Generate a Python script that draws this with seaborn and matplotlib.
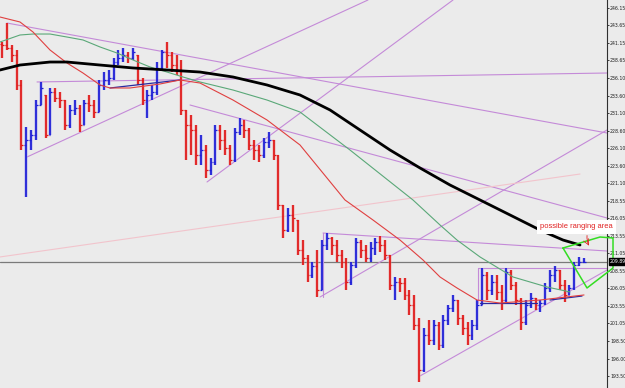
import numpy as np
import pandas as pd
import matplotlib
matplotlib.use("Agg")
import matplotlib.pyplot as plt
import seaborn as sns

# ---------------- data ----------------
high = [241.25,243.96,240.82,240.11,235.82,229.11,228.68,232.96,235.54,233.68,
        234.68,234.68,234.11,232.96,232.25,232.96,232.25,232.96,233.68,232.96,
        235.82,236.96,237.25,238.96,240.11,240.39,239.82,240.39,239.39,236.11,
        234.39,235.11,238.39,240.11,241.25,239.82,239.39,238.68,231.54,230.82,
        229.39,227.96,226.54,224.68,229.39,229.39,228.68,226.54,228.96,230.39,
        230.11,228.96,227.25,226.54,227.54,228.39,227.25,225.11,217.96,217.54,
        217.96,215.82,212.96,210.82,209.82,211.54,212.96,213.96,213.39,212.96,
        211.54,210.39,209.82,213.25,212.96,212.25,212.68,213.25,213.54,212.96,
        210.82,207.68,207.54,207.54,205.82,205.11,201.82,200.39,201.54,201.54,
        201.25,202.25,203.68,205.11,204.39,202.25,201.25,201.54,204.39,208.96,
        208.39,207.96,207.96,206.54,208.96,208.68,206.96,204.68,204.39,205.39,
        204.68,204.39,206.82,208.68,209.25,208.68,207.25,206.54,209.82,210.54,
        210.39]
low = [238.96,240.11,238.39,234.39,225.82,219.11,225.82,227.25,232.25,227.54,
       227.96,232.68,231.82,228.68,228.96,230.82,228.39,229.39,231.25,230.39,
       231.25,234.39,235.11,235.82,237.96,238.39,238.25,238.68,235.11,232.25,
       230.39,232.96,233.68,237.25,237.54,236.96,236.54,230.82,224.39,225.11,
       223.68,223.68,221.82,222.25,223.68,225.82,225.11,223.68,224.11,227.96,
       227.54,225.82,224.39,224.11,224.68,226.11,224.39,217.25,213.25,214.11,
       214.11,210.82,209.39,206.96,207.54,204.82,205.82,211.54,210.82,209.82,
       208.96,205.82,206.54,208.96,210.39,209.82,209.82,210.82,211.25,210.11,
       205.82,204.39,205.54,204.39,202.25,200.11,192.68,194.11,197.96,197.96,
       197.25,197.54,200.82,202.68,200.82,199.39,197.96,198.68,200.11,203.68,
       204.39,205.11,204.39,202.96,204.11,205.82,203.68,200.11,200.82,203.25,
       202.96,202.68,203.68,205.54,206.96,205.82,204.11,205.11,205.82,209.25,
       209.68]
close = [240.82,240.39,239.39,235.11,226.54,227.25,227.96,232.25,234.68,227.96,
         234.11,233.25,232.96,229.39,231.54,231.82,229.39,232.54,232.25,231.25,
         235.11,235.82,236.11,238.39,238.96,239.39,238.96,239.82,235.82,232.96,
         233.68,234.11,237.54,239.82,239.39,237.96,237.25,231.54,229.39,228.68,
         225.11,225.82,222.96,224.11,228.68,227.25,226.11,224.39,228.39,229.39,
         228.68,226.54,225.82,225.11,226.96,227.25,225.11,217.96,214.39,216.54,
         216.11,211.54,210.39,207.96,209.25,205.82,212.25,213.25,212.25,210.82,
         209.82,206.96,209.39,212.68,211.54,210.39,211.82,212.68,212.25,210.82,
         206.54,206.96,206.82,205.11,203.68,200.82,194.39,199.39,198.68,200.82,
         197.96,201.54,203.25,204.39,201.82,200.39,199.39,200.82,203.68,207.96,
         205.82,206.96,205.54,204.39,208.39,206.54,204.39,201.25,203.68,204.68,
         203.68,203.96,206.11,207.96,208.68,206.54,205.11,206.11,209.39,209.82,
         209.89]
first_open = 241.00
last_price = 209.89

ma_red_x = [-0.41,3.71,6.39,9.90,13.40,16.70,20.21,22.27,26.39,32.58,36.70,40.82,47.63,
            54.64,61.44,70.72,76.49,82.06,86.80,90.31,93.81,97.94,102.68,110.93,120.0]
ma_red_y = [244.82,244.11,242.68,240.11,238.25,236.82,235.11,234.68,234.68,235.25,235.82,235.39,232.96,
            230.11,226.54,218.68,215.82,212.96,210.11,207.68,206.11,204.39,203.96,204.39,205.11]
ma_green_x = [-0.41,3.71,6.39,9.90,13.40,16.70,20.21,23.71,27.01,30.52,34.02,37.32,40.82,
              47.63,54.64,61.44,71.75,84.74,90.31,93.81,98.56,105.36,112.37,117.11]
ma_green_y = [241.25,242.25,242.39,242.39,241.96,241.54,240.54,239.68,238.68,237.68,236.96,236.25,235.54,
              234.39,232.96,231.25,225.82,218.68,215.11,212.96,210.54,207.68,206.25,205.54]
ma_black_x = [-0.41,3.71,9.90,13.40,20.21,27.01,34.02,40.82,47.63,54.64,61.44,67.63,73.81,
              80.0,86.19,92.37,98.56,104.74,110.93,115.67,119.18]
ma_black_y = [237.25,237.96,238.39,238.39,237.96,237.54,237.25,236.96,236.25,235.11,233.68,231.54,228.68,
              225.82,223.25,220.82,218.68,216.54,214.39,212.96,212.25]

# trendlines: (x0, y0, x1, y1) in bar index / price
violet_lines = [
    (1.03, 243.96, 124.74, 228.25),
    (7.22, 235.54, 124.74, 236.82),
    (5.15, 224.82, 75.46, 247.25),
    (38.76, 232.25, 124.74, 216.11),
    (42.27, 221.25, 92.99, 247.25),
    (66.19, 213.96, 124.74, 211.39),
    (66.19, 213.96, 66.19, 204.82),
    (65.57, 204.82, 124.74, 228.68),
    (86.19, 193.54, 124.74, 208.68),
    (98.14, 208.96, 124.74, 208.96),
    (98.14, 208.96, 98.14, 203.96),
]
pink_line = (-0.41, 210.54, 119.18, 222.39)
navy_lines = [
    (22.27, 234.68, 36.70, 235.82),
    (98.56, 203.96, 110.31, 203.96),
    (112.99, 204.39, 119.59, 204.96),
]
box_x = [115.67, 123.30, 125.98, 125.98, 120.62, 115.67]
box_y = [211.82, 213.39, 213.25, 208.96, 206.11, 211.82]

tick_labels = ["246.15","243.65","241.15","238.65","236.10","233.60","231.10","228.60",
               "226.10","223.60","221.10","218.55","216.05","213.55","211.05","208.55",
               "206.05","203.55","201.05","198.50","196.00","193.50"]

# ---------------- drawing ----------------
sns.set_style("white")
BG = "#ebebeb"
fig = plt.figure(figsize=(6.25, 3.88), dpi=100, facecolor=BG)
ax = fig.add_axes([0, 0, 607/625, 1])
ax.set_facecolor(BG)

n = len(close)
idx = np.arange(n)
opens = [first_open] + close[:-1]
opens = [min(max(o, l), h) for o, l, h in zip(opens, low, high)]
up = [c >= o for c, o in zip(close, opens)]
col = ["#1f1fd6" if u else "#e01a1a" for u in up]
halo = ["#9a9af0" if u else "#f09a9a" for u in up]

# pale halo, then bars with open/close ticks
ax.vlines(idx, low, high, colors=halo, linewidth=2.8, alpha=0.4, zorder=3)
ax.vlines(idx, low, high, colors=col, linewidth=1.3, zorder=4)
ax.hlines(opens, idx - 0.4, idx, colors=col, linewidth=0.9, zorder=4)
ax.hlines(close, idx, idx + 0.4, colors=col, linewidth=0.9, zorder=4)

# trendlines
for (x0, y0, x1, y1) in violet_lines:
    ax.plot([x0, x1], [y0, y1], color="#c48ad8", lw=0.8, zorder=2)
ax.plot([pink_line[0], pink_line[2]], [pink_line[1], pink_line[3]], color="#f2c4cc", lw=0.8, zorder=2)
for (x0, y0, x1, y1) in navy_lines:
    ax.plot([x0, x1], [y0, y1], color="#2a2aa0", lw=0.9, zorder=5)

# moving averages via seaborn
df_r = pd.DataFrame({"bar": ma_red_x, "price": ma_red_y})
df_g = pd.DataFrame({"bar": ma_green_x, "price": ma_green_y})
df_k = pd.DataFrame({"bar": ma_black_x, "price": ma_black_y})
sns.lineplot(data=df_g, x="bar", y="price", ax=ax, color="#5aa878", lw=0.8, sort=False, estimator=None, zorder=5)
sns.lineplot(data=df_r, x="bar", y="price", ax=ax, color="#e04040", lw=0.8, sort=False, estimator=None, zorder=5)
sns.lineplot(data=df_k, x="bar", y="price", ax=ax, color="#000000", lw=2.0, sort=False, estimator=None, zorder=6)

# current price line
ax.axhline(last_price, color="#7a7a7a", lw=0.9, zorder=1)

# green hand-drawn box
ax.plot(box_x, box_y, color="#33dd22", lw=1.1, zorder=7, clip_on=False)

# annotation text
ax.text(111.0, 214.85, "possible ranging area", color="#e02020", fontsize=5.4,
        family="Liberation Sans", va="center", ha="left", zorder=8,
        bbox=dict(boxstyle="square,pad=0.45", fc="white", ec="none"))
ax.annotate("", xy=(121.3, 211.8), xytext=(120.7, 214.0),
            arrowprops=dict(arrowstyle="->", color="#e02020", lw=0.6,
                            connectionstyle="arc3,rad=0.2"), zorder=8)

# axes styling
ax.set_xlim(-0.41, 124.74)
ax.set_ylim(191.82, 247.25)
ax.set_xlabel("")
ax.set_ylabel("")
ax.set_xticks([])
for s in ["top", "bottom", "left"]:
    ax.spines[s].set_visible(False)
ax.spines["right"].set_color("#303030")
ax.spines["right"].set_linewidth(0.8)
ax.yaxis.tick_right()
ax.set_yticks([float(t) for t in tick_labels])
ax.set_yticklabels(tick_labels)
ax.tick_params(axis="y", length=1.6, width=0.6, pad=0.6, labelsize=3.3,
               colors="#202020", direction="out")

# current price tag
ax.text(1.004, last_price, f"{last_price:.2f}", transform=ax.get_yaxis_transform(),
        color="white", fontsize=3.3, va="center", ha="left", zorder=9, clip_on=False,
        bbox=dict(boxstyle="square,pad=0.2", fc="black", ec="black"))

fig.savefig("out.png", dpi=100, facecolor=BG)
